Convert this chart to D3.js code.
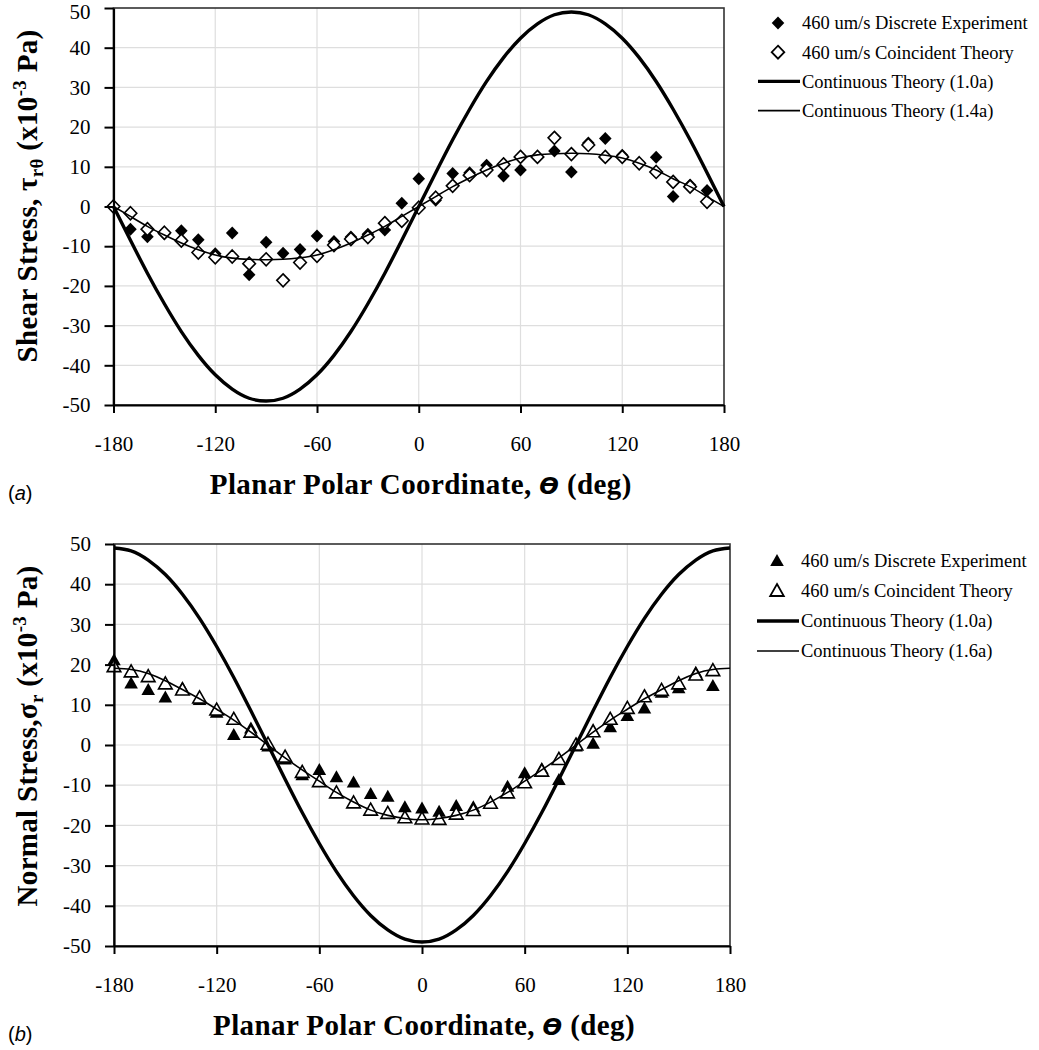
<!DOCTYPE html>
<html>
<head>
<meta charset="utf-8">
<script src="https://cdn.jsdelivr.net/npm/d3@7"></script>
<style>
  body { margin: 0; background: #fff; }
  .serif { font-family: "Liberation Serif", "Times New Roman", serif; }
  .sans { font-family: "Liberation Sans", Arial, sans-serif; }
</style>
</head>
<body>
<svg id="fig" width="1039" height="1050"></svg>
<script>
// ---- data ----
const angleTicks = [-180, -120, -60, 0, 60, 120, 180];
const valueTicks = [-50, -40, -30, -20, -10, 0, 10, 20, 30, 40, 50];

// sample angles for the discrete points (deg)
const pointAngles = [-180, -170, -160, -150, -140, -130, -120, -110, -100, -90, -80, -70, -60, -50, -40, -30, -20, -10,
  0, 10, 20, 30, 40, 50, 60, 70, 80, 90, 100, 110, 120, 130, 140, 150, 160, 170];
// angles the continuous curves were read at (deg)
const curveAngles = [-180, -170, -160, -150, -140, -130, -120, -110, -100, -90, -80, -70, -60, -50, -40, -30, -20, -10,
  0, 10, 20, 30, 40, 50, 60, 70, 80, 90, 100, 110, 120, 130, 140, 150, 160, 170, 180];

// (a) shear stress, x10^-3 Pa
const shearExperiment = [0, -5.7, -7.6, -6.9, -6.1, -8.4, -11.9, -6.7, -17.2, -9.0, -11.8, -10.8, -7.4, -8.8, -7.7, -7.0, -5.9, 0.8,
  7.0, 1.6, 8.3, 8.5, 10.4, 7.7, 9.2, 12.4, 14.0, 8.7, 16.0, 17.1, 12.9, 10.8, 12.4, 2.5, 5.4, 4.0];
const shearCoincident = [0, -1.7, -5.7, -6.6, -8.6, -11.6, -12.8, -12.6, -14.4, -13.3, -18.6, -14.1, -12.4, -9.7, -8.2, -7.7, -4.2, -3.6,
  -0.3, 2.2, 5.2, 7.9, 9.2, 10.6, 12.5, 12.5, 17.3, 13.2, 15.5, 12.5, 12.5, 10.9, 8.7, 6.2, 5.0, 1.2];
const shearTheory10 = [0, -8.5, -16.8, -24.5, -31.5, -37.5, -42.4, -46.0, -48.3, -49.0, -48.3, -46.0, -42.4, -37.5, -31.5, -24.5, -16.8, -8.5,
  0, 8.5, 16.8, 24.5, 31.5, 37.5, 42.4, 46.0, 48.3, 49.0, 48.3, 46.0, 42.4, 37.5, 31.5, 24.5, 16.8, 8.5, 0];
const shearTheory14 = [0, -2.5, -5.0, -7.2, -9.2, -10.9, -12.2, -13.0, -13.3, -13.4, -13.3, -12.9, -12.2, -10.9, -9.2, -7.2, -5.0, -2.5,
  0, 2.5, 5.0, 7.2, 9.2, 10.9, 12.2, 13.0, 13.3, 13.4, 13.3, 12.9, 12.2, 10.9, 9.2, 7.0, 5.0, 2.5, 0];

// (b) normal stress, x10^-3 Pa
const normalExperiment = [21.1, 15.3, 13.7, 11.8, 14.1, 11.2, 8.0, 2.5, 4.1, -0.4, -3.6, -7.5, -6.2, -8.0, -9.3, -12.2, -12.9, -15.5,
  -15.8, -16.6, -15.2, -15.5, -14.3, -10.4, -7.0, -6.0, -8.7, -0.4, 0.3, 4.4, 7.2, 9.1, 13.0, 14.1, 18.0, 14.7];
const normalCoincident = [19.5, 18.2, 17.0, 15.2, 13.7, 11.7, 8.7, 6.4, 3.2, 0.2, -3.0, -6.8, -9.1, -11.9, -14.4, -16.2, -17.0, -18.1,
  -18.4, -18.5, -17.2, -16.3, -14.5, -11.9, -9.4, -6.5, -3.6, 0.0, 3.3, 6.4, 9.1, 12.0, 13.6, 15.2, 17.4, 18.5];
const normalTheory10 = [49.0, 48.3, 46.0, 42.4, 37.5, 31.5, 24.5, 16.8, 8.5, 0, -8.5, -16.8, -24.5, -31.5, -37.5, -42.4, -46.0, -48.3,
  -49.0, -48.3, -46.0, -42.4, -37.5, -31.5, -24.5, -16.8, -8.5, 0, 8.5, 16.8, 24.5, 31.5, 37.5, 42.4, 46.0, 48.3, 49.0];
const normalTheory16 = [19.1, 18.8, 17.8, 16.0, 13.8, 11.5, 8.9, 6.2, 3.2, 0, -3.2, -6.2, -9.0, -11.8, -14.2, -16.2, -17.5, -18.3,
  -18.6, -18.3, -17.5, -16.2, -14.2, -11.8, -9.0, -6.2, -3.2, 0, 3.2, 6.2, 8.9, 11.5, 13.8, 16.0, 17.8, 18.8, 19.1];

const shearLegend = ["460 um/s Discrete Experiment", "460 um/s Coincident Theory", "Continuous Theory (1.0a)", "Continuous Theory (1.4a)"];
const normalLegend = ["460 um/s Discrete Experiment", "460 um/s Coincident Theory", "Continuous Theory (1.0a)", "Continuous Theory (1.6a)"];

// ---- drawing ----
const svg = d3.select("#fig");
svg.append("rect").attr("width", 1039).attr("height", 1050).attr("fill", "#fff");

const diamond = "M0,-6.5L6.3,0L0,6.5L-6.3,0Z";
const triangle = "M0,-7L6.8,5L-6.8,5Z";

function drawPanel(p) {
  const x = d3.scaleLinear().domain([-180, 180]).range([p.left, p.right]);
  const y = d3.scaleLinear().domain([-50, 50]).range([p.bottom, p.top]);
  const g = svg.append("g").attr("class", "serif");

  // grid
  g.append("g").selectAll("line").data(valueTicks.slice(1, -1)).enter().append("line")
    .attr("x1", p.left).attr("x2", p.right)
    .attr("y1", d => y(d)).attr("y2", d => y(d))
    .attr("stroke", "#dedede").attr("stroke-width", 1.2);
  g.append("g").selectAll("line").data(angleTicks.slice(1, -1)).enter().append("line")
    .attr("y1", p.top).attr("y2", p.bottom)
    .attr("x1", d => x(d)).attr("x2", d => x(d))
    .attr("stroke", "#dedede").attr("stroke-width", 1.2);

  // frame (top / right)
  g.append("rect")
    .attr("x", p.left).attr("y", p.top)
    .attr("width", p.right - p.left).attr("height", p.bottom - p.top)
    .attr("fill", "none").attr("stroke", "#333").attr("stroke-width", 1.6);

  // points
  const exp = pointAngles.map((a, i) => [a, p.experiment[i]]);
  const coi = pointAngles.map((a, i) => [a, p.coincident[i]]);
  g.append("g").selectAll("path").data(exp).enter().append("path")
    .attr("d", p.marker)
    .attr("transform", d => `translate(${x(d[0])},${y(d[1])})`)
    .attr("fill", "#000");
  g.append("g").selectAll("path").data(coi).enter().append("path")
    .attr("d", p.marker)
    .attr("transform", d => `translate(${x(d[0])},${y(d[1])})`)
    .attr("fill", "#fff").attr("stroke", "#000").attr("stroke-width", 1.6);

  // continuous curves
  const line = d3.line().x(d => x(d[0])).y(d => y(d[1])).curve(d3.curveNatural);
  g.append("path")
    .attr("d", line(curveAngles.map((a, i) => [a, p.thin[i]])))
    .attr("fill", "none").attr("stroke", "#000").attr("stroke-width", 1.6);
  g.append("path")
    .attr("d", line(curveAngles.map((a, i) => [a, p.thick[i]])))
    .attr("fill", "none").attr("stroke", "#000").attr("stroke-width", 3.4);

  // axes
  const ax = g.append("g").attr("transform", `translate(0,${p.bottom})`)
    .call(d3.axisBottom(x).tickValues(angleTicks).tickFormat(d => String(d))
      .tickSizeInner(8).tickSizeOuter(0).tickPadding(23));
  const ay = g.append("g").attr("transform", `translate(${p.left},0)`)
    .call(d3.axisLeft(y).tickValues(valueTicks).tickFormat(d => String(d))
      .tickSizeInner(9).tickSizeOuter(0).tickPadding(14));
  [ax, ay].forEach(a => {
    a.attr("font-family", null).attr("font-size", 21);
    a.select(".domain").attr("stroke", "#000").attr("stroke-width", 2.2);
    a.selectAll(".tick line").attr("stroke", "#000").attr("stroke-width", 2);
    a.selectAll(".tick text").attr("fill", "#000");
  });
  // keep the top label inside the page
  if (p.top < 20) {
    ay.selectAll(".tick text").filter(d => d === 50).attr("dy", "0.52em");
  }

  // x title
  const xt = g.append("text")
    .attr("x", (p.left + p.right) / 2 + 2).attr("y", p.bottom + 89)
    .attr("text-anchor", "middle").attr("font-size", 29).attr("font-weight", "bold")
    .attr("letter-spacing", 0.4);
  xt.append("tspan").text("Planar Polar Coordinate, ");
  xt.append("tspan").attr("font-style", "italic").style("font-family", '"DejaVu Sans", sans-serif')
    .attr("font-size", 23).text("ϴ");
  xt.append("tspan").text(" (deg)");

  // y title
  const yt = g.append("text")
    .attr("transform", `translate(${p.titleX},${p.titleY}) rotate(-90)`)
    .attr("text-anchor", "middle").attr("font-size", 29).attr("font-weight", "bold")
    .attr("letter-spacing", 0.3);
  yt.append("tspan").text(p.yLabel[0]);
  yt.append("tspan").attr("font-size", 19).attr("dy", 6).text(p.yLabel[1]);
  yt.append("tspan").attr("dy", -6).text(p.yLabel[2]);
  yt.append("tspan").attr("font-size", 19).attr("dy", -11).text("-3");
  yt.append("tspan").attr("dy", 11).text(" Pa)");

  // panel letter
  const pl = svg.append("text").attr("class", "sans").attr("x", 8).attr("y", p.letterY)
    .attr("font-size", 20);
  pl.append("tspan").text("(");
  pl.append("tspan").attr("font-style", "italic").text(p.letter);
  pl.append("tspan").text(")");

  // legend
  const lg = svg.append("g").attr("class", "serif").attr("transform", `translate(${p.legendX},${p.legendY})`);
  p.legend.forEach((name, i) => {
    const row = lg.append("g").attr("transform", `translate(0,${i * p.legendStep})`);
    if (i < 2) {
      row.append("path").attr("d", p.marker)
        .attr("transform", "translate(20,0)")
        .attr("fill", i === 0 ? "#000" : "#fff")
        .attr("stroke", "#000").attr("stroke-width", i === 0 ? 0 : 1.8);
    } else {
      row.append("line").attr("x1", 0).attr("x2", 42).attr("y1", 0).attr("y2", 0)
        .attr("stroke", "#000").attr("stroke-width", i === 2 ? 3.4 : 1.6);
    }
    row.append("text").attr("x", 44).attr("y", 0).attr("dy", "0.35em")
      .attr("font-size", 18.5).attr("fill", "#000").text(name);
  });
}

drawPanel({
  left: 113.5, right: 724, top: 8, bottom: 405,
  marker: diamond,
  experiment: shearExperiment, coincident: shearCoincident,
  thick: shearTheory10, thin: shearTheory14,
  yLabel: ["Shear Stress, τ", "rθ", " (x10"],
  titleX: 37, titleY: 196, letter: "a", letterY: 500,
  legend: shearLegend, legendX: 758, legendY: 23, legendStep: 29.2
});

drawPanel({
  left: 114, right: 730, top: 544, bottom: 946,
  marker: triangle,
  experiment: normalExperiment, coincident: normalCoincident,
  thick: normalTheory10, thin: normalTheory16,
  yLabel: ["Normal Stress,σ", "r", " (x10"],
  titleX: 37, titleY: 736, letter: "b", letterY: 1041,
  legend: normalLegend, legendX: 757, legendY: 561, legendStep: 30
});
</script>
</body>
</html>
